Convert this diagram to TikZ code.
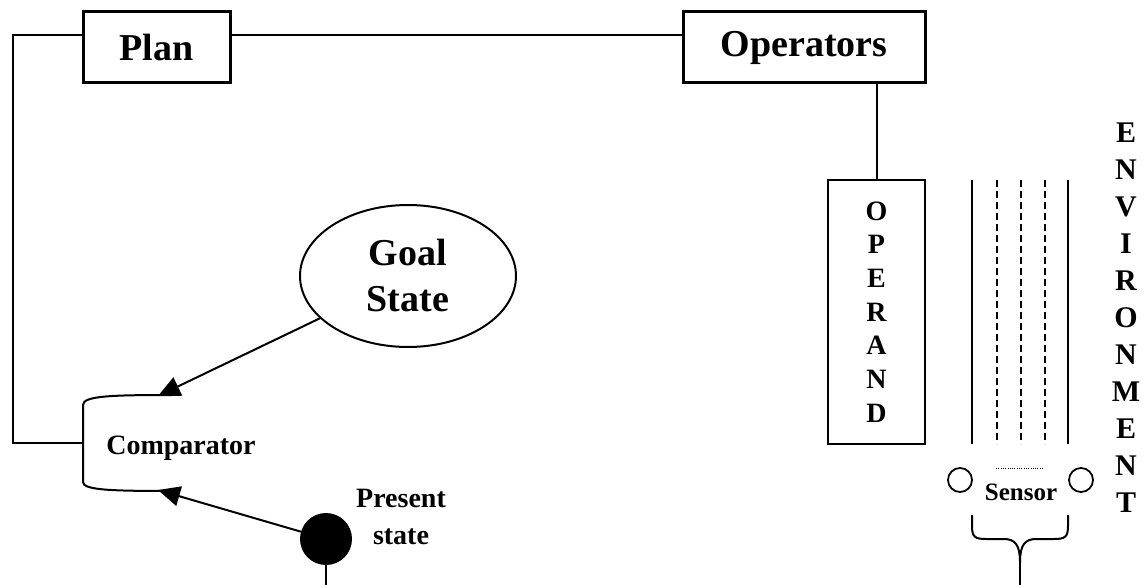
\documentclass[tikz,border=0pt]{standalone}
\usepackage{fontspec}
\setmainfont{Liberation Serif}
\usetikzlibrary{arrows.meta,shapes.geometric}

\tikzset{
  boxnode/.style={draw, line width=3pt, inner sep=0pt, font=\bfseries\fontsize{38}{44}\selectfont},
  wire/.style={line width=2pt},
  tip/.style={wire, -{Triangle[length=22pt,width=20pt]}},
  stackfont/.style={font=\bfseries\fontsize{28}{33.7}\selectfont, align=center, inner sep=0pt},
}

\begin{document}
\begin{tikzpicture}[x=1pt, y=-1pt]
\useasboundingbox (0,0) rectangle (1145,585);

% top row: plan and operators
\node[boxnode, minimum width=147pt, minimum height=71pt] (plan) at (156.5,47.5) {Plan};
\node[boxnode, minimum width=242pt, minimum height=71pt] (ops) at (804,47.5) {Operators};
\coordinate (topY) at (0,35);
\coordinate (cornerTL) at (13,35);
\coordinate (cornerBL) at (13,443);
\coordinate (cmpLeft) at (83,443);
\draw[wire] (plan.east |- topY) -- (ops.west |- topY);
\draw[wire] (plan.west |- topY) -- (cornerTL) -- (cornerBL) -- (cmpLeft);

% operand block below the operators
\node[draw, line width=2.5pt, minimum width=97pt, minimum height=264pt, stackfont] (operand) at (876.5,312)
  {O\\P\\E\\R\\A\\N\\D};
\draw[wire] (operand.north) -- (operand.north |- ops.south);

% goal state
\node[draw, ellipse, line width=2pt, minimum width=216pt, minimum height=142pt,
      font=\bfseries\fontsize{38}{46}\selectfont, align=center] (goal) at (408,276) {Goal\\State};

% comparator bracket
\coordinate (cmpTop) at (158,396);
\coordinate (cmpBot) at (158,490);
\draw[wire] (172,395) .. controls (110,395) and (83,396) .. (83,405) -- (83,482)
  .. controls (83,490) and (110,491) .. (172,491);
\node[font=\bfseries\fontsize{28}{34}\selectfont, inner sep=0pt] (cmp) at (181,448) {Comparator};
\draw[tip] (goal) -- (cmpTop);

% present state
\node[circle, fill=black, minimum size=52pt, inner sep=0pt] (pres) at (326,539) {};
\node[font=\bfseries\fontsize{28}{37}\selectfont, align=center, inner sep=0pt] (presLbl) at (401,517) {Present\\state};
\coordinate (presEnd) at (326,585);
\draw[tip] (pres) -- (cmpBot);
\draw[wire] (pres.south) -- (presEnd);

% environment channel
\foreach \xx in {997, 1021, 1045}{
  \draw[wire, dash pattern=on 7pt off 4pt] (\xx,180) -- (\xx,444);
}
\draw[line width=2.2pt] (972,180) -- (972,444);
\draw[line width=2.2pt] (1068,180) -- (1068,444);

% sensor
\draw[line width=0.9pt, dash pattern=on 1pt off 1.3pt] (996,468) -- (1043,468);
\node[draw, circle, line width=1.8pt, minimum size=24pt, inner sep=0pt] (sensL) at (960,480) {};
\node[draw, circle, line width=1.8pt, minimum size=24pt, inner sep=0pt] (sensR) at (1081,480) {};
\node[font=\bfseries\fontsize{25}{30}\selectfont, inner sep=0pt] (sensor) at (1021,492) {Sensor};

% brace under the sensor
\coordinate (braceJoin) at (1020,562);
\coordinate (braceEnd) at (1020,585);
\draw[wire] (972,515) -- (972,526) .. controls (972,537) and (975,539) .. (986,539) -- (1004,539)
  .. controls (1015,539) and (1020,545) .. (braceJoin);
\draw[wire] (1068,515) -- (1068,526) .. controls (1068,537) and (1065,539) .. (1054,539) -- (1036,539)
  .. controls (1025,539) and (1020,545) .. (braceJoin);
\draw[line width=2.4pt] (braceJoin) -- (braceEnd);

% environment label
\node[font=\bfseries\fontsize{30}{37}\selectfont, align=center, inner sep=0pt] (env) at (1126,318)
  {E\\N\\V\\I\\R\\O\\N\\M\\E\\N\\T};
\end{tikzpicture}
\end{document}
